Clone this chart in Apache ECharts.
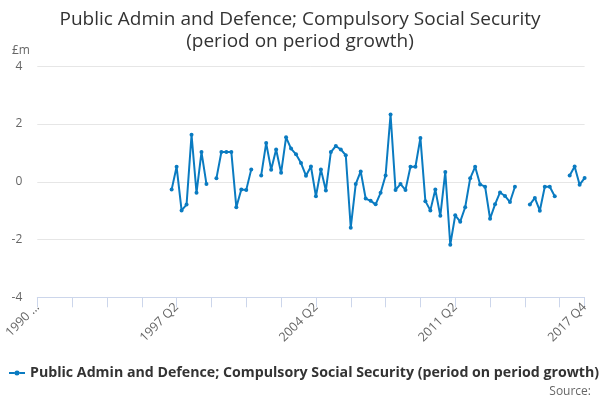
<!DOCTYPE html>
<html>
<head>
<meta charset="utf-8">
<script src="https://cdn.jsdelivr.net/npm/echarts@6/dist/echarts.min.js"></script>
<style>
html,body{margin:0;padding:0;background:#fff;}
#chart{width:600px;height:400px;}
</style>
</head>
<body>
<div id="chart"></div>
<script>
// Categories: 1990 Q2 .. 2017 Q4
var categories = [];
for (var y = 1990; y <= 2017; y++) {
  for (var q = 1; q <= 4; q++) {
    if (y === 1990 && q === 1) continue;
    categories.push(y + ' Q' + q);
  }
}
// Values: nulls 1990 Q2 .. 1996 Q4 (27 quarters), then readings from 1997 Q1
var leadingNulls = [null,null,null,null,null,null,null,null,null,null,null,null,null,null,null,null,null,null,null,null,null,null,null,null,null,null,null];
var readValues = [
  -0.27, 0.52, -0.99, -0.79, 1.63, -0.38, 1.03, -0.08, null,
  0.12, 1.03, 1.03, 1.03, -0.88, -0.27, -0.28, 0.43, null,
  0.22, 1.34, 0.42, 1.12, 0.31, 1.54, 1.15, 0.95, 0.65, 0.21, 0.53,
  -0.50, 0.43, -0.30, 1.03, 1.24, 1.12, 0.92, -1.59, -0.08, 0.36,
  -0.58, -0.66, -0.78, -0.38, 0.22, 2.33, -0.28, -0.08, -0.28, 0.52,
  0.52, 1.52, -0.67, -0.99, -0.27, -1.18, 0.34, -2.18, -1.16, -1.38,
  -0.88, 0.12, 0.52, -0.09, -0.17, -1.28, -0.78, -0.37, -0.49, -0.70,
  -0.17, null, null,
  -0.79, -0.56, -1.00, -0.17, -0.17, -0.50, null, null,
  0.22, 0.53, -0.10, 0.13
];
var seriesValues = leadingNulls.concat(readValues);
var yTicks = [-4, -2, 0, 2, 4];
var seriesName = 'Public Admin and Defence; Compulsory Social Security (period on period growth)';
var titleText = 'Public Admin and Defence; Compulsory Social Security\n(period on period growth)';

var lastIdx = categories.length - 1;
var chart = echarts.init(document.getElementById('chart'));
chart.setOption({
  animation: false,
  textStyle: { fontFamily: 'Open Sans' },
  title: {
    text: titleText,
    left: 'center',
    top: 4,
    textStyle: { fontSize: 19, fontWeight: 'normal', color: '#333', lineHeight: 22, fontFamily: 'Open Sans' }
  },
  grid: { left: 37.3, right: 15.4, top: 66.3, bottom: 102.7, containLabel: false },
  legend: {
    left: 4,
    top: 361,
    itemWidth: 16,
    itemHeight: 5,
    itemGap: 5,
    icon: 'path://M0,1.5h5.5v2H0z M10.5,1.5h5.5v2h-5.5z M8,0a2.5,2.5 0 1,0 0.001,0z',
    textStyle: { fontSize: 14.2, fontWeight: 'bold', color: '#333', fontFamily: 'Open Sans' },
    data: [seriesName]
  },
  graphic: [
    { type: 'text', left: 12, top: 45, style: { text: '£m', fill: '#666', fontSize: 12, fontFamily: 'Open Sans' } },
    { type: 'text', right: 9, top: 386, style: { text: 'Source:', fill: '#666', fontSize: 12, fontFamily: 'Open Sans' } }
  ],
  xAxis: {
    type: 'category',
    data: categories,
    boundaryGap: false,
    axisLine: { onZero: false, lineStyle: { color: '#ccd6eb', width: 1 } },
    axisTick: {
      show: true,
      length: 10,
      lineStyle: { color: '#ccd6eb' },
      interval: function (i) { return i % 7 === 0 || i === lastIdx; }
    },
    axisLabel: {
      rotate: 45,
      margin: 8,
      color: '#666',
      fontSize: 12.5,
      fontFamily: 'Open Sans',
      interval: function (i) { return i % 28 === 0 || i === lastIdx; },
      formatter: function (v, i) { return i === 0 ? v.slice(0, 4) + ' …' : v; }
    },
    splitLine: { show: false }
  },
  yAxis: {
    type: 'value',
    min: yTicks[0],
    max: yTicks[yTicks.length - 1],
    interval: 2,
    axisLine: { show: false },
    axisTick: { show: false },
    axisLabel: { color: '#666', fontSize: 12, margin: 15, fontFamily: 'Open Sans' },
    splitLine: { lineStyle: { color: '#e6e6e6', width: 1 } }
  },
  series: [{
    name: seriesName,
    type: 'line',
    data: seriesValues,
    connectNulls: false,
    symbol: 'circle',
    symbolSize: 4,
    showAllSymbol: true,
    lineStyle: { color: '#0a7bc1', width: 2 },
    itemStyle: { color: '#0a7bc1' }
  }]
});
</script>
</body>
</html>
